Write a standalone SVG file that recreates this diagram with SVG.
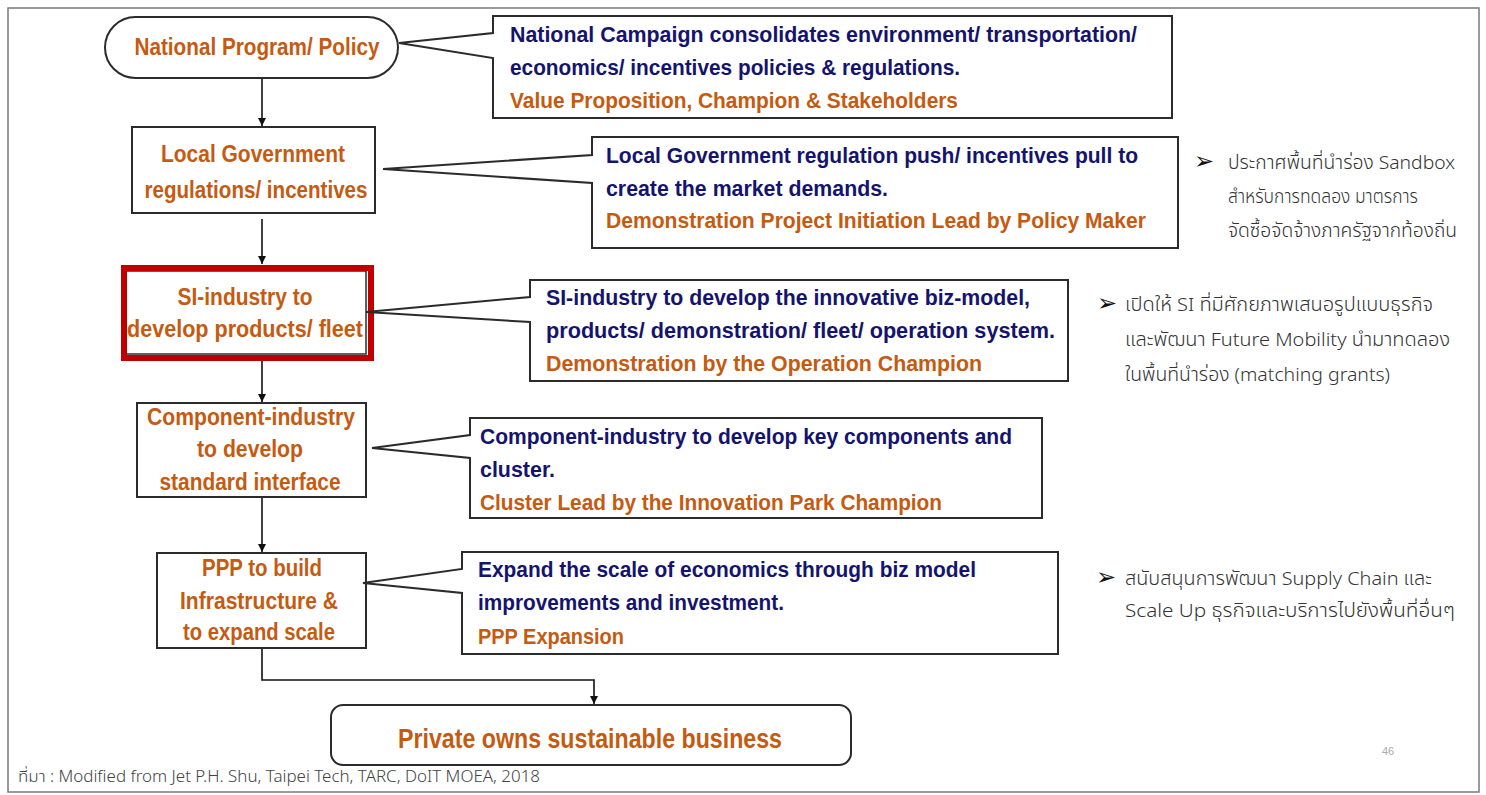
<svg xmlns="http://www.w3.org/2000/svg" width="1486" height="795" viewBox="0 0 1486 795">
<style>
.frame{fill:#fff;stroke:#7a7a7a;stroke-width:1.5}
.box{fill:#fff;stroke:#2b2b2b;stroke-width:2}
.call{fill:#fff;stroke:#2b2b2b;stroke-width:2;stroke-linejoin:miter}
.conn{fill:none;stroke:#111;stroke-width:1.6}
.t{font-family:"Liberation Sans",Arial,sans-serif;font-weight:bold;font-size:23px;fill:#c55a11}
.n{font-family:"Liberation Sans",Arial,sans-serif;font-weight:bold;font-size:22px;fill:#14146e}
.o{font-family:"Liberation Sans",Arial,sans-serif;font-weight:bold;font-size:22px;fill:#c55a11}
.th{font-family:"Noto Sans Thai","Noto Sans","DejaVu Sans",sans-serif;font-weight:300;font-size:19px;fill:#333}
.bul{font-family:"DejaVu Sans",sans-serif;font-size:24px;fill:#111}
</style>
<defs>
<marker id="ah" viewBox="0 0 10 10" refX="10" refY="5" markerWidth="8" markerHeight="8" markerUnits="userSpaceOnUse" orient="auto">
<path d="M0,0 L10,5 L0,10 Z" fill="#111"/>
</marker>
</defs>
<rect class="frame" x="8" y="8" width="1471" height="784"/>

<g id="connectors">
<line class="conn" x1="262" y1="78" x2="262" y2="126" marker-end="url(#ah)"/>
<line class="conn" x1="262" y1="219" x2="262" y2="264" marker-end="url(#ah)"/>
<line class="conn" x1="262" y1="361" x2="262" y2="402" marker-end="url(#ah)"/>
<line class="conn" x1="262" y1="497" x2="262" y2="552" marker-end="url(#ah)"/>
<path class="conn" d="M262,648 V680 H594 V704" marker-end="url(#ah)"/>
</g>

<g id="node-national">
<rect class="box" x="105" y="17" width="293" height="61" rx="30.5"/>
<text class="t" x="257" y="55" text-anchor="middle" textLength="245" lengthAdjust="spacingAndGlyphs">National Program/ Policy</text>
</g>
<g id="callout-national">
<path class="call" d="M493,16 H1172 V118 H493 V58 L399,43 L493,33 Z"/>
<text class="n" x="510" y="42" textLength="627" lengthAdjust="spacingAndGlyphs">National Campaign consolidates environment/ transportation/</text>
<text class="n" x="510" y="75" textLength="450" lengthAdjust="spacingAndGlyphs">economics/ incentives policies &amp; regulations.</text>
<text class="o" x="510" y="108" textLength="448" lengthAdjust="spacingAndGlyphs">Value Proposition, Champion &amp; Stakeholders</text>
</g>

<g id="node-local">
<rect class="box" x="132" y="127" width="243" height="86"/>
<text class="t" x="253" y="162" text-anchor="middle" textLength="184" lengthAdjust="spacingAndGlyphs">Local Government</text>
<text class="t" x="256" y="198" text-anchor="middle" textLength="223" lengthAdjust="spacingAndGlyphs">regulations/ incentives</text>
</g>
<g id="callout-local">
<path class="call" d="M592,137 H1178 V248 H592 V183 L383,169 L592,155 Z"/>
<text class="n" x="606" y="163" textLength="532" lengthAdjust="spacingAndGlyphs">Local Government regulation push/ incentives pull to</text>
<text class="n" x="606" y="196" textLength="282" lengthAdjust="spacingAndGlyphs">create the market demands.</text>
<text class="o" x="606" y="228" textLength="540" lengthAdjust="spacingAndGlyphs">Demonstration Project Initiation Lead by Policy Maker</text>
</g>

<g id="node-si">
<rect x="126" y="271" width="240" height="83" fill="#fff" stroke="#2b2b2b" stroke-width="1.5"/>
<rect x="124" y="268" width="247" height="90" fill="none" stroke="#c00000" stroke-width="6"/>
<text class="t" x="245" y="305" text-anchor="middle" textLength="135" lengthAdjust="spacingAndGlyphs">SI-industry to</text>
<text class="t" x="245" y="337" text-anchor="middle" textLength="236" lengthAdjust="spacingAndGlyphs">develop products/ fleet</text>
</g>
<g id="callout-si">
<path class="call" d="M530,280 H1068 V381 H530 V322 L366,312 L530,297 Z"/>
<text class="n" x="546" y="305" textLength="484" lengthAdjust="spacingAndGlyphs">SI-industry to develop the innovative biz-model,</text>
<text class="n" x="546" y="338" textLength="509" lengthAdjust="spacingAndGlyphs">products/ demonstration/ fleet/ operation system.</text>
<text class="o" x="546" y="371" textLength="436" lengthAdjust="spacingAndGlyphs">Demonstration by the Operation Champion</text>
</g>

<g id="node-component">
<rect class="box" x="137" y="403" width="229" height="94"/>
<text class="t" x="251" y="425" text-anchor="middle" textLength="208" lengthAdjust="spacingAndGlyphs">Component-industry</text>
<text class="t" x="250" y="457" text-anchor="middle" textLength="106" lengthAdjust="spacingAndGlyphs">to develop</text>
<text class="t" x="250" y="490" text-anchor="middle" textLength="181" lengthAdjust="spacingAndGlyphs">standard interface</text>
</g>
<g id="callout-component">
<path class="call" d="M470,418 H1042 V518 H470 V458 L372,448 L470,435 Z"/>
<text class="n" x="480" y="444" textLength="532" lengthAdjust="spacingAndGlyphs">Component-industry to develop key components and</text>
<text class="n" x="480" y="477" textLength="75" lengthAdjust="spacingAndGlyphs">cluster.</text>
<text class="o" x="480" y="510" textLength="462" lengthAdjust="spacingAndGlyphs">Cluster Lead by the Innovation Park Champion</text>
</g>

<g id="node-ppp">
<rect class="box" x="157" y="553" width="209" height="95"/>
<text class="t" x="262" y="576" text-anchor="middle" textLength="120" lengthAdjust="spacingAndGlyphs">PPP to build</text>
<text class="t" x="259" y="609" text-anchor="middle" textLength="158" lengthAdjust="spacingAndGlyphs">Infrastructure &amp;</text>
<text class="t" x="259" y="640" text-anchor="middle" textLength="152" lengthAdjust="spacingAndGlyphs">to expand scale</text>
</g>
<g id="callout-ppp">
<path class="call" d="M462,552 H1058 V654 H462 V593 L363,583 L462,569 Z"/>
<text class="n" x="478" y="577" textLength="498" lengthAdjust="spacingAndGlyphs">Expand the scale of economics through biz model</text>
<text class="n" x="478" y="610" textLength="306" lengthAdjust="spacingAndGlyphs">improvements and investment.</text>
<text class="o" x="478" y="644" textLength="146" lengthAdjust="spacingAndGlyphs">PPP Expansion</text>
</g>

<g id="node-private">
<rect class="box" x="331" y="705" width="520" height="60" rx="12"/>
<text class="t" x="590" y="748" text-anchor="middle" style="font-size:27px" textLength="384" lengthAdjust="spacingAndGlyphs">Private owns sustainable business</text>
</g>

<g id="note-1">
<text class="bul" x="1194" y="169">➢</text>
<text class="th" x="1228" y="169" textLength="227" lengthAdjust="spacingAndGlyphs">ประกาศพื้นที่นำร่อง Sandbox</text>
<text class="th" x="1228" y="203" textLength="190" lengthAdjust="spacingAndGlyphs">สำหรับการทดลอง มาตรการ</text>
<text class="th" x="1228" y="237" textLength="229" lengthAdjust="spacingAndGlyphs">จัดซื้อจัดจ้างภาครัฐจากท้องถิ่น</text>
</g>
<g id="note-2">
<text class="bul" x="1097" y="311">➢</text>
<text class="th" x="1125" y="311" textLength="308" lengthAdjust="spacingAndGlyphs">เปิดให้ SI ที่มีศักยภาพเสนอรูปแบบธุรกิจ</text>
<text class="th" x="1125" y="346" textLength="325" lengthAdjust="spacingAndGlyphs">และพัฒนา Future Mobility นำมาทดลอง</text>
<text class="th" x="1125" y="381" textLength="265" lengthAdjust="spacingAndGlyphs">ในพื้นที่นำร่อง (matching grants)</text>
</g>
<g id="note-3">
<text class="bul" x="1096" y="585">➢</text>
<text class="th" x="1125" y="585" textLength="307" lengthAdjust="spacingAndGlyphs">สนับสนุนการพัฒนา Supply Chain และ</text>
<text class="th" x="1125" y="617" textLength="330" lengthAdjust="spacingAndGlyphs">Scale Up ธุรกิจและบริการไปยังพื้นที่อื่นๆ</text>
</g>

<text class="th" x="18" y="782" style="font-size:16px;fill:#444" textLength="522" lengthAdjust="spacingAndGlyphs">ที่มา : Modified from Jet P.H. Shu, Taipei Tech, TARC, DoIT MOEA, 2018</text>
<text x="1382" y="755" style="font-family:'Liberation Sans',Arial,sans-serif;font-size:11px;fill:#aaa">46</text>
</svg>
